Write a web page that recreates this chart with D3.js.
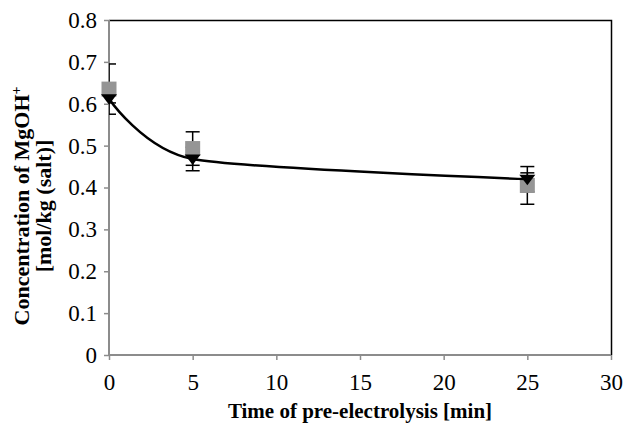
<!DOCTYPE html>
<html>
<head>
<meta charset="utf-8">
<script src="https://cdn.jsdelivr.net/npm/d3@7"></script>
<style>
body { margin: 0; background: #fff; }
text { font-family: "Liberation Serif", "Times New Roman", serif; }
</style>
</head>
<body>
<svg id="chart"></svg>
<script>
// data
var times = [0, 5, 25];
var squareVals = [0.635, 0.493, 0.405];
var squareErrUp = [0.06, 0.04, 0.03];
var squareErrDown = [0.06, 0.04, 0.045];
var triVals = [0.612, 0.468, 0.42];
var triErr = [0.01, 0.028, 0.03];
var xTicks = [0, 5, 10, 15, 20, 25, 30];
var yTicks = [0, 0.1, 0.2, 0.3, 0.4, 0.5, 0.6, 0.7, 0.8];

var W = 629, H = 425;
var pLeft = 109, pRight = 611, pTop = 20, pBottom = 355;

var svg = d3.select("#chart")
    .attr("width", W)
    .attr("height", H);

var x = d3.scaleLinear().domain([0, 30]).range([pLeft, pRight]);
var y = d3.scaleLinear().domain([0, 0.8]).range([pBottom, pTop]);

svg.append("clipPath").attr("id", "plot")
    .append("rect")
    .attr("x", pLeft).attr("y", pTop - 10)
    .attr("width", pRight - pLeft).attr("height", pBottom - pTop + 20);

// plot border (top and right black)
svg.append("path")
    .attr("d", "M" + pLeft + "," + (pTop + 0.5) + "H" + (pRight + 0.5) + "V" + pBottom)
    .attr("fill", "none")
    .attr("stroke", "#000")
    .attr("stroke-width", 1.5);

// axes
var yAxis = svg.append("g")
    .attr("transform", "translate(" + pLeft + ",0)")
    .call(d3.axisLeft(y).tickValues(yTicks).tickSize(5).tickPadding(7)
        .tickFormat(function(d){ return d === 0 ? "0" : d3.format(".1f")(d); }));
var xAxis = svg.append("g")
    .attr("transform", "translate(0," + pBottom + ")")
    .call(d3.axisBottom(x).tickValues(xTicks).tickSize(5).tickPadding(14));

[yAxis, xAxis].forEach(function(a){
    a.attr("font-size", 23);
    a.select(".domain").attr("stroke", "#8c8c8c").attr("stroke-width", 2);
    a.selectAll(".tick line").attr("stroke", "#8c8c8c").attr("stroke-width", 1.5);
    a.selectAll("text").attr("fill", "#000")
        .style("font-size", "23px")
        .style("font-family", "Liberation Serif");
});
xAxis.select(".domain").attr("d", "M" + pLeft + ",0H" + pRight);
yAxis.select(".domain").attr("d", "M0," + pBottom + "V" + pTop);

var g = svg.append("g").attr("clip-path", "url(#plot)");

function errorBars(vals, up, down) {
    var cap = 7;
    var data = times.map(function(t, i){ return {t: t, hi: vals[i] + up[i], lo: vals[i] - down[i]}; });
    var eb = g.append("g").selectAll("g").data(data).enter().append("g");
    eb.append("line")
        .attr("x1", function(d){ return x(d.t); })
        .attr("x2", function(d){ return x(d.t); })
        .attr("y1", function(d){ return y(d.hi); })
        .attr("y2", function(d){ return y(d.lo); })
        .attr("stroke", "#000").attr("stroke-width", 1.5);
    ["hi", "lo"].forEach(function(k){
        eb.append("line")
            .attr("x1", function(d){ return x(d.t) - cap; })
            .attr("x2", function(d){ return x(d.t) + cap; })
            .attr("y1", function(d){ return y(d[k]); })
            .attr("y2", function(d){ return y(d[k]); })
            .attr("stroke", "#000").attr("stroke-width", 1.5);
    });
}

// gray square series
errorBars(squareVals, squareErrUp, squareErrDown);
svg.append("g").selectAll("rect")
    .data(times)
    .enter()
    .append("rect")
    .attr("x", function(d){ return x(d) - 7.5; })
    .attr("y", function(d, i){ return y(squareVals[i]) - 7.5; })
    .attr("width", 15)
    .attr("height", 15)
    .attr("fill", "#959595");

// black triangle series with smoothed line
errorBars(triVals, triErr, triErr);
var line = d3.line()
    .x(function(d){ return x(d); })
    .y(function(d, i){ return y(triVals[i]); })
    .curve(d3.curveCardinal.tension(0.3));
svg.append("path")
    .datum(times)
    .attr("d", line)
    .attr("fill", "none")
    .attr("stroke", "#000")
    .attr("stroke-width", 2.5);

svg.append("g").selectAll("path")
    .data(times)
    .enter()
    .append("path")
    .attr("transform", function(d, i){ return "translate(" + x(d) + "," + y(triVals[i]) + ")"; })
    .attr("d", "M-8,-4.5L8,-4.5L0,6Z")
    .attr("fill", "#000");

// axis titles
svg.append("text")
    .attr("x", 360)
    .attr("y", 418)
    .attr("text-anchor", "middle")
    .attr("font-size", 21)
    .attr("font-weight", "bold")
    .text("Time of pre-electrolysis [min]");

var yt = svg.append("text")
    .attr("transform", "translate(29,206) rotate(-90)")
    .attr("text-anchor", "middle")
    .attr("font-size", 22)
    .attr("font-weight", "bold");
yt.append("tspan").attr("x", 0).attr("y", 0).text("Concentration of MgOH");
yt.append("tspan").attr("dy", -8).attr("font-size", 14).text("+");
yt.append("tspan").attr("x", 0).attr("y", 22).text("[mol/kg (salt)]");
</script>
</body>
</html>
